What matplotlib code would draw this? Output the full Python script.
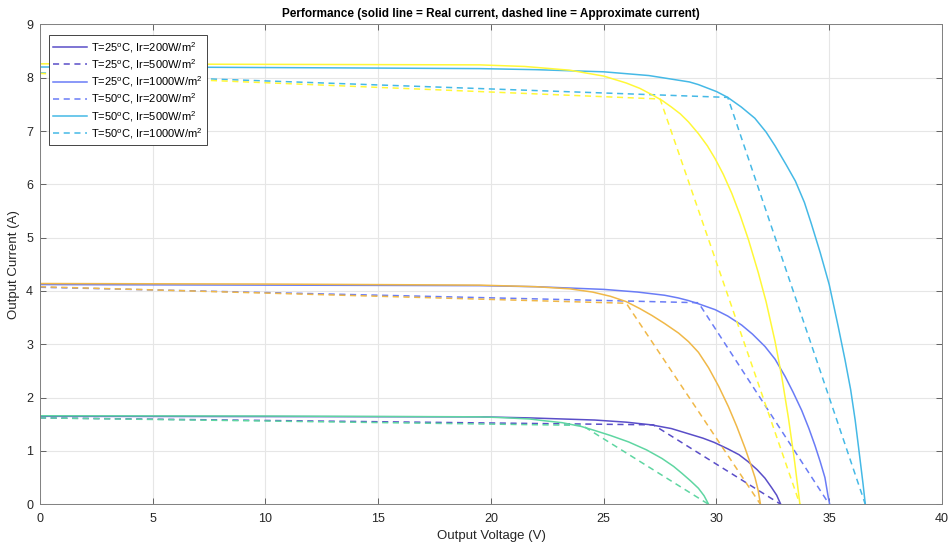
import matplotlib
matplotlib.use("Agg")
import matplotlib.pyplot as plt

plt.rcParams['font.family'] = ['Liberation Sans', 'DejaVu Sans']
plt.rcParams['mathtext.default'] = 'regular'

# ---- real current curves (solid) ----
V_25_200 = [0, 10, 19.5, 21.7, 24.6, 26.0, 27.1, 28.0, 28.7, 29.4, 29.9, 30.5, 31.0,
            31.4, 31.8, 32.15, 32.45, 32.67, 32.85]
I_25_200 = [1.65, 1.645, 1.64, 1.62, 1.58, 1.54, 1.49, 1.42, 1.33, 1.24, 1.16, 1.04, 0.93,
            0.80, 0.65, 0.49, 0.31, 0.17, 0.0]

V_25_500 = [0, 10, 19.5, 22.0, 25.0, 26.5, 27.7, 28.3, 28.76, 29.2, 29.94, 30.5, 31.12,
            31.6, 32.15, 32.6, 33.04, 33.4, 33.78, 34.1, 34.37, 34.6, 34.81, 34.95, 35.02]
I_25_500 = [4.12, 4.11, 4.10, 4.08, 4.03, 3.98, 3.92, 3.87, 3.82, 3.76, 3.65, 3.53, 3.36,
            3.19, 2.96, 2.72, 2.40, 2.10, 1.76, 1.42, 1.10, 0.80, 0.50, 0.15, 0.0]

V_25_1000 = [0, 5, 10, 15, 19.5, 22.0, 25.0, 27.0, 28.8, 29.2, 30.0, 30.5, 31.1, 31.7,
             32.2, 32.6, 33.1, 33.5, 33.9, 34.2, 34.6, 35.0, 35.4, 35.7, 35.95, 36.15,
             36.35, 36.5, 36.6]
I_25_1000 = [8.20, 8.20, 8.19, 8.18, 8.17, 8.15, 8.11, 8.04, 7.92, 7.87, 7.74, 7.63, 7.45,
             7.24, 6.98, 6.72, 6.36, 6.06, 5.66, 5.27, 4.72, 4.12, 3.33, 2.71, 2.15, 1.58,
             0.90, 0.38, 0.0]

V_50_200 = [0, 10, 19.5, 20.5, 21.7, 22.4, 23.16, 24.0, 24.63, 25.3, 26.1, 26.9, 27.58,
            28.1, 28.47, 28.85, 29.2, 29.45, 29.65]
I_50_200 = [1.66, 1.655, 1.64, 1.625, 1.60, 1.565, 1.53, 1.46, 1.38, 1.29, 1.17, 1.02, 0.86,
            0.71, 0.58, 0.44, 0.30, 0.16, 0.0]

V_50_500 = [0, 10, 19.5, 22.0, 23.5, 24.5, 25.3, 26.0, 26.6, 27.14, 27.7, 28.32, 28.76,
            29.2, 29.65, 30.1, 30.53, 30.9, 31.27, 31.5, 31.71, 31.85, 31.95]
I_50_500 = [4.14, 4.13, 4.11, 4.08, 4.04, 3.98, 3.90, 3.80, 3.67, 3.54, 3.39, 3.21, 3.05,
            2.85, 2.56, 2.21, 1.83, 1.46, 1.05, 0.77, 0.50, 0.26, 0.0]

V_50_1000 = [0, 10, 19.5, 21.5, 23.5, 25.0, 26.0, 26.6, 27.14, 27.6, 28.0, 28.4, 28.76,
             29.2, 29.6, 29.94, 30.3, 30.68, 31.05, 31.42, 31.85, 32.2, 32.6, 32.9, 33.19,
             33.45, 33.7]
I_50_1000 = [8.26, 8.25, 8.24, 8.21, 8.14, 8.03, 7.90, 7.80, 7.68, 7.57, 7.45, 7.32, 7.17,
             6.95, 6.72, 6.48, 6.19, 5.83, 5.42, 4.96, 4.35, 3.80, 3.05, 2.38, 1.62,
             0.85, 0.0]

# ---- approximate current (dashed), three-point piecewise lines ----
VA_25_200 = [0, 27.2, 32.85];  IA_25_200 = [1.62, 1.49, 0.0]
VA_25_500 = [0, 29.2, 35.0];   IA_25_500 = [4.07, 3.78, 0.0]
VA_25_1000 = [0, 30.5, 36.6];  IA_25_1000 = [8.09, 7.63, 0.0]
VA_50_200 = [0, 24.04, 29.65]; IA_50_200 = [1.62, 1.48, 0.0]
VA_50_500 = [0, 26.0, 31.95];  IA_50_500 = [4.08, 3.77, 0.0]
VA_50_1000 = [0, 27.5, 33.7];  IA_50_1000 = [8.08, 7.60, 0.0]

LEGEND_LABELS = [r"T=25$^o$C, Ir=200W/m$^2$", r"T=25$^o$C, Ir=500W/m$^2$",
                 r"T=25$^o$C, Ir=1000W/m$^2$", r"T=50$^o$C, Ir=200W/m$^2$",
                 r"T=50$^o$C, Ir=500W/m$^2$", r"T=50$^o$C, Ir=1000W/m$^2$"]

COLORS = ["#5a4ec8", "#6a7cf6", "#45b9e6", "#5fd6a2", "#f0b848", "#fff838"]

series = [
    (V_25_200, I_25_200, VA_25_200, IA_25_200),
    (V_25_500, I_25_500, VA_25_500, IA_25_500),
    (V_25_1000, I_25_1000, VA_25_1000, IA_25_1000),
    (V_50_200, I_50_200, VA_50_200, IA_50_200),
    (V_50_500, I_50_500, VA_50_500, IA_50_500),
    (V_50_1000, I_50_1000, VA_50_1000, IA_50_1000),
]

fig = plt.figure(figsize=(9.49, 5.46), dpi=100)
ax = fig.add_axes([0.0421, 0.0764, 0.9505, 0.879])

handles = []
for c, (v, i, va, ia) in zip(COLORS, series):
    h1, = ax.plot(v, i, color=c, lw=1.1)
    h2, = ax.plot(va, ia, color=c, lw=1.1, ls=(0, (4, 3)))
    handles += [h1, h2]

ax.set_xlim(0, 40); ax.set_ylim(0, 9)
ax.set_xticks(range(0, 41, 5)); ax.set_yticks(range(0, 10))
ax.grid(True, color="#e6e6e6", lw=0.8)
ax.set_axisbelow(True)
ax.tick_params(direction="in", top=True, right=True, length=4, width=0.6, pad=6,
               colors="#4d4d4d", labelcolor="#262626", labelsize=9)
ax.tick_params(axis="y", pad=5)
for s in ax.spines.values():
    s.set_color("#808080"); s.set_linewidth(0.7)

ax.set_xlabel("Output Voltage (V)", fontsize=9.5, color="#262626", labelpad=4)
ax.set_ylabel("Output Current (A)", fontsize=9.5, color="#262626", labelpad=4)
ax.set_title("Performance (solid line = Real current, dashed line = Approximate current)",
             fontsize=8.5, fontweight="bold", color="#000000", pad=5)

leg = ax.legend(handles[:6], LEGEND_LABELS, loc="upper left", bbox_to_anchor=(0.01, 0.977),
                borderaxespad=0, fontsize=8, handlelength=3.0, handletextpad=0.4,
                labelspacing=0.22, fancybox=False, framealpha=1, edgecolor="#262626",
                borderpad=0.4)
leg.get_frame().set_linewidth(0.6)

fig.savefig("out.png", dpi=100)
